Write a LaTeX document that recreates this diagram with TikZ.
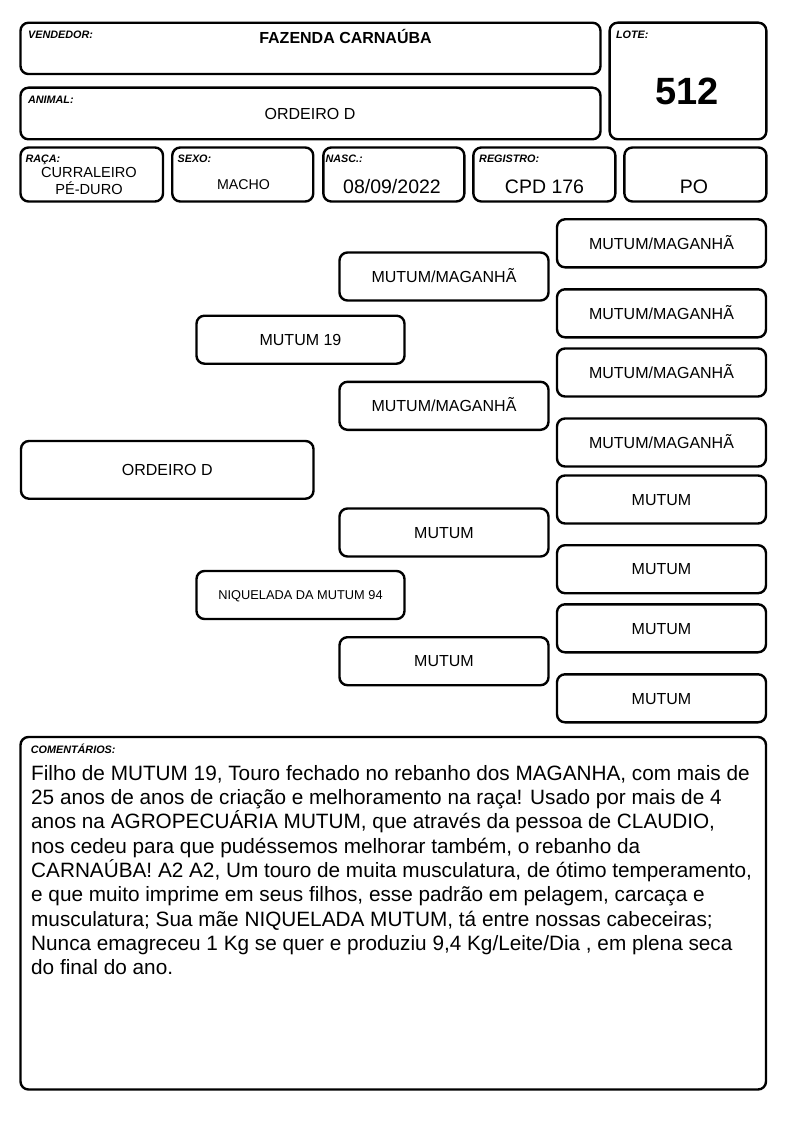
\documentclass[tikz,border=0pt]{standalone}
\usepackage{fontspec}
\setmainfont{Liberation Sans}
\tikzset{box/.style={draw, line width=2.4pt, rounded corners=8pt, inner sep=0pt}}
\tikzset{ped/.style={box, minimum width=209pt, minimum height=48pt,
  font=\fontsize{16}{19}\selectfont, text height=11.5pt, text depth=0pt}}
\tikzset{tag/.style={anchor=base west, inner sep=0pt,
  font=\fontsize{10.8}{13}\selectfont\bfseries\itshape}}
\tikzset{big/.style={anchor=base, inner sep=0pt, font=\fontsize{19.5}{23}\selectfont}}

\begin{document}
\begin{tikzpicture}[x=1pt, y=-1pt]
\useasboundingbox (0,0) rectangle (794,1123);

% header
\node[box, minimum width=580pt, minimum height=51.3pt] (vend) at (310.5,48.4) {};
\node[box, minimum width=580pt, minimum height=51.6pt] (animal) at (310.5,113.5) {};
\node[box, minimum width=156.7pt, minimum height=116.6pt] (lote) at (688,81) {};
\node[tag] (vendtag) at (27.9,39) {VENDEDOR:};
\node[tag] (animaltag) at (27.9,104) {ANIMAL:};
\node[tag] (lotetag) at (615.8,39) {LOTE:};
\node[anchor=base, inner sep=0pt, font=\fontsize{16}{19}\selectfont\bfseries] (vendname) at (345.5,43.5) {FAZENDA CARNAÚBA};
\node[anchor=base, inner sep=0pt, font=\fontsize{16}{19}\selectfont] (animalname) at (310,119.5) {ORDEIRO D};
\node[anchor=base, inner sep=0pt, font=\fontsize{38}{40}\selectfont\bfseries] (lotenum) at (687,105) {512};

% second row
\node[box, minimum width=142.5pt, minimum height=54pt] (raca) at (91.75,174.5) {};
\node[box, minimum width=141pt, minimum height=54pt] (sexo) at (242.75,174.5) {};
\node[box, minimum width=141pt, minimum height=54pt] (nasc) at (393.85,174.5) {};
\node[box, minimum width=142pt, minimum height=54pt] (reg) at (544.35,174.5) {};
\node[box, minimum width=142pt, minimum height=54pt] (po) at (695.4,174.5) {};
\node[tag] (racatag) at (25.3,163) {RAÇA:};
\node[tag] (sexotag) at (177.4,163) {SEXO:};
\node[tag] (nasctag) at (325.4,163) {NASC.:};
\node[tag] (regtag) at (479,163) {REGISTRO:};
\node[inner sep=0pt, align=center, font=\fontsize{14.6}{16.5}\selectfont] (racaname) at (89,181) {CURRALEIRO\\PÉ-DURO};
\node[anchor=base, inner sep=0pt, font=\fontsize{14.2}{17}\selectfont] (sexoname) at (243.5,189.5) {MACHO};
\node[big] (nascdate) at (392,193.5) {08/09/2022};
\node[big] (regnum) at (544.5,193.5) {CPD 176};
\node[big] (poname) at (694,193.5) {PO};

% pedigree
\node[ped, minimum width=292.5pt, minimum height=57.7pt] (self) at (167.25,469.85) {ORDEIRO D};
\node[ped, minimum width=208pt] (sire) at (300.5,339.7) {MUTUM 19};
\node[ped, minimum width=208pt, font=\fontsize{12.8}{15}\selectfont, text height=9.2pt] (dam) at (300.5,595) {NIQUELADA DA MUTUM 94};

\node[ped] (ss) at (444,276.5) {MUTUM/MAGANHÃ};
\node[ped] (sd) at (444,405.8) {MUTUM/MAGANHÃ};
\node[ped] (ds) at (444,532.5) {MUTUM};
\node[ped] (dd) at (444,661.2) {MUTUM};

\node[ped] (sss) at (661.5,243.3) {MUTUM/MAGANHÃ};
\node[ped] (ssd) at (661.5,313.3) {MUTUM/MAGANHÃ};
\node[ped] (sds) at (661.5,372.5) {MUTUM/MAGANHÃ};
\node[ped] (sdd) at (661.5,442.5) {MUTUM/MAGANHÃ};
\node[ped] (dss) at (661.5,499.5) {MUTUM};
\node[ped] (dsd) at (661.5,569.2) {MUTUM};
\node[ped] (dds) at (661.5,628.3) {MUTUM};
\node[ped] (ddd) at (661.5,698.3) {MUTUM};

% comments
\node[box, minimum width=745.5pt, minimum height=352.5pt] (coment) at (393.25,913.25) {};
\node[tag] (comenttag) at (30.7,753) {COMENTÁRIOS:};
\node[anchor=north west, inner sep=0pt, align=left, font=\fontsize{20.75}{24.3}\selectfont] (comenttext) at (31,765) {Filho de MUTUM 19, Touro fechado no rebanho dos MAGANHA, com mais de\\
25 anos de anos de criação e melhoramento na raça! Usado por mais de 4\\
anos na AGROPECUÁRIA MUTUM, que através da pessoa de CLAUDIO,\\
nos cedeu para que pudéssemos melhorar também, o rebanho da\\
CARNAÚBA! A2 A2, Um touro de muita musculatura, de ótimo temperamento,\\
e que muito imprime em seus filhos, esse padrão em pelagem, carcaça e\\
musculatura; Sua mãe NIQUELADA MUTUM, tá entre nossas cabeceiras;\\
Nunca emagreceu 1 Kg se quer e produziu 9,4 Kg/Leite/Dia , em plena seca\\
do final do ano.};

\end{tikzpicture}
\end{document}
